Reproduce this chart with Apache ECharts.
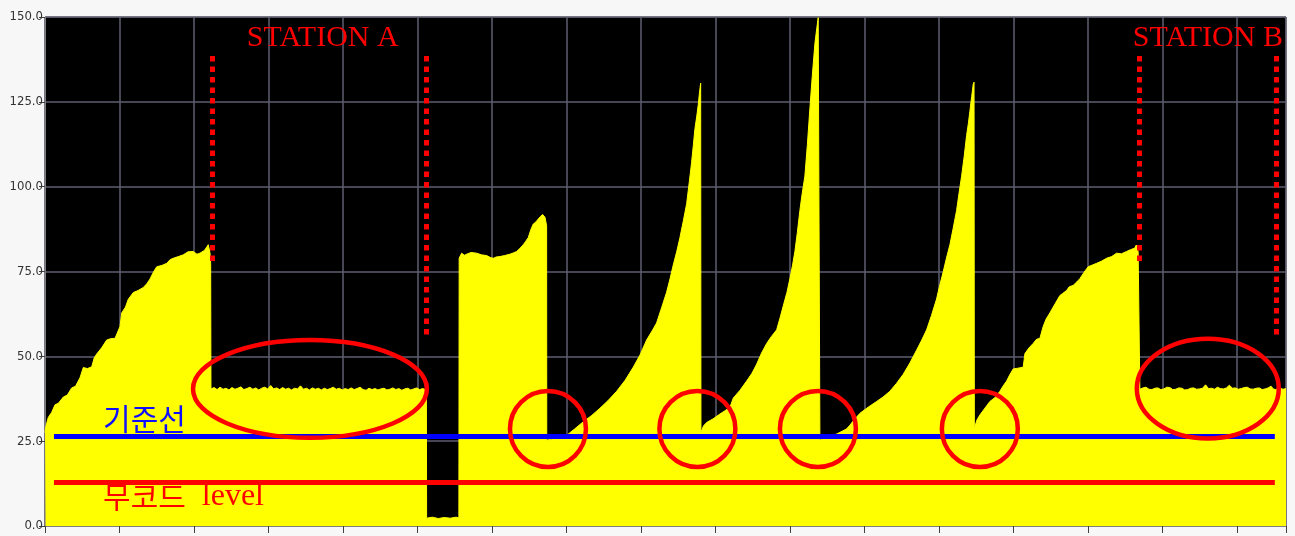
<!DOCTYPE html>
<html>
<head>
<meta charset="utf-8">
<script src="https://cdn.jsdelivr.net/npm/echarts@6/dist/echarts.min.js"></script>
<style>
	html, body { margin: 0; padding: 0; background: #f7f7f7; }
	#chart { width: 1295px; height: 536px; }
</style>
</head>
<body>
<div id="chart"></div>
<script>
// x is in sample units (100 per grid column), y is the signal level
const yTicks = [0, 25, 50, 75, 100, 125, 150];
const xMax = 1666;

const rampA = [
	[0, 27.5], [0.8, 29.0], [4.4, 32], [9, 33.5], [13.4, 35.7], [18, 36.2], [24.6, 38], [30, 38.6],
	[35.8, 40.7], [41, 41.2], [47, 43.7], [51.4, 46.7], [57, 46.4], [62.7, 46.9], [66, 49.5], [69.4, 50.7],
	[76, 52.5], [82.8, 54.8], [88, 55.2], [94, 55.3], [100.7, 58.8], [103, 62.8], [108, 64.5], [111.8, 66.8],
	[118.5, 68.8], [125, 69.4], [132, 70.3], [137, 71.5], [141, 72.8], [146, 75.0], [150, 76.4], [157, 76.8],
	[163.4, 77.4], [168, 78.5], [172.2, 78.9], [179, 79.4], [185.6, 79.9], [192, 80.8], [199, 80.9], [204, 80.1],
	[208, 80.4], [214, 81.2], [219.2, 82.9], [221.5, 80.5], [222.4, 77.4],
];
const flatA = [
	[222.8, 40.4], [227, 40.8], [231, 40.2], [235, 40.9], [239, 40.3], [243, 40.6], [247, 40.1], [251, 40.8],
	[255, 40.3], [259, 40.6], [263, 41.0], [267, 40.2], [271, 40.5], [275, 40.9], [279, 40.3], [283, 40.7],
	[287, 40.1], [291, 40.6], [295, 40.9], [299, 40.4], [303, 41.4], [307, 40.4], [311, 40.7], [315, 40.2],
	[319, 40.8], [323, 40.3], [327, 40.6], [331, 40.1], [335, 40.6], [339, 40.4], [343, 41.3], [347, 40.3],
	[351, 40.6], [355, 40.1], [359, 40.7], [363, 40.3], [367, 40.6], [371, 40.1], [375, 40.6], [379, 40.2],
	[383, 40.5], [387, 40.9], [391, 40.3], [395, 40.6], [399, 40.1], [403, 40.5], [407, 40.2], [411, 40.7],
	[415, 40.2], [419, 40.5], [423, 40.9], [427, 40.2], [431, 40.0], [435, 40.6], [439, 40.2], [443, 40.5],
	[447, 40.1], [451, 40.4], [455, 40.6], [459, 40.1], [463, 40.3], [467, 40.7], [471, 40.2], [475, 40.5],
	[479, 40.0], [483, 40.4], [487, 40.6], [491, 40.1], [495, 40.4], [499, 40.7], [503, 40.2], [507, 40.5],
	[512, 40.1],
];
const gap = [
	[512.3, 2.3], [520, 2.6], [528, 2.2], [536, 2.5], [544, 2.3], [552, 2.6], [555.6, 2.4],
];
const plateau = [
	[556.0, 78.9], [559.3, 80.4], [563, 79.8], [566, 80.1], [572, 80.6], [579.5, 80.4], [586, 79.9], [592.9, 79.7],
	[598, 79.1], [601.8, 78.9], [606, 79.3], [610.8, 79.4], [617, 79.7], [624.2, 80.1], [629, 80.5], [633.2, 80.9],
	[638, 81.9], [642, 82.9], [645, 83.8], [648.8, 85.0], [652, 87.2], [655.5, 89.0], [659, 89.6], [662.2, 90.5],
	[665, 91.2], [668.1, 91.8], [671.2, 91.0], [673.4, 88.5],
];
const spike1 = [
	[673.6, 25.3], [680, 25.6], [686.8, 26.0], [693, 26.3], [700.3, 26.7], [711, 28.6], [722.6, 30.7], [734, 32.6],
	[745, 34.7], [756, 37.0], [767.4, 39.7], [779, 43.0], [789.7, 46.8], [799, 50.5], [807.6, 54.8], [815, 57.5],
	[821, 59.8], [828, 64.5], [834.5, 68.9], [839, 72.8], [843.4, 76.9], [848, 80.8], [852.4, 85.0], [857, 90.0],
	[861.4, 95.0], [865, 101.5], [868, 107.1], [870.5, 112.5], [872.5, 117.1], [875, 120.8], [877, 124.2],
	[878.5, 127.5], [880.2, 130.5],
];
const spike2 = [
	[880.6, 27.6], [884, 29.5], [888.2, 30.5], [897, 31.6], [906, 33], [913, 34.0], [919.5, 35], [924, 37.7],
	[933, 40.0], [941.9, 42.7], [949, 45.0], [955.4, 47.7], [962, 51.0], [968.8, 53.8], [975, 55.8], [982.2, 57.8],
	[987, 61.5], [991.1, 64.9], [996, 68.8], [1000, 72.9], [1003.5, 76.8], [1006.7, 80.9], [1010, 86.5],
	[1013.4, 93.0], [1016.5, 98.0], [1020.1, 103.1], [1023.5, 112.5], [1026.9, 123.2], [1030, 132.5],
	[1033.6, 142.3], [1036, 146.5], [1038, 149.8], [1039.8, 150],
];
const spike3 = [
	[1040.3, 25.3], [1048, 26.0], [1055, 26.6], [1062.7, 27.1], [1070, 27.9], [1076, 28.6], [1080.5, 29.7],
	[1087, 31.5], [1094, 33.2], [1105, 35.0], [1116.4, 36.7], [1125, 38.0], [1134.2, 39.7], [1143, 42.0],
	[1152.1, 44.7], [1161, 48.0], [1170, 51.8], [1177, 54.8], [1183.5, 57.8], [1190, 62.0], [1196.9, 66.9],
	[1201, 70.8], [1205.8, 74.9], [1210, 78.8], [1214.8, 82.9], [1219, 87.5], [1223.8, 93.0], [1227, 98.0],
	[1230.5, 103.1], [1234, 109.0], [1237.2, 115.1], [1239.5, 118.5], [1241.6, 122.2], [1244, 126.5],
	[1246.1, 130.2], [1247.2, 130.8],
];
const rampB = [
	[1247.6, 28.8], [1251, 31.2], [1255, 32.7], [1261, 34.5], [1268.5, 36.7], [1275, 37.8], [1281.9, 39.7],
	[1286, 41.2], [1290.9, 42.7], [1295, 44.5], [1299.8, 46.3], [1306, 46.5], [1313.2, 46.8], [1315.5, 50.8],
	[1321, 52.5], [1326.6, 53.8], [1331, 55.0], [1335.6, 55.3], [1340, 58.8], [1344, 61.0], [1349, 62.8],
	[1356, 65.5], [1362.4, 67.9], [1366, 68.5], [1371.4, 69.4], [1375, 70.5], [1380.2, 70.9], [1385, 71.9],
	[1389.3, 72.9], [1395, 74.8], [1400.4, 76.4], [1406, 76.9], [1411.7, 77.4], [1418, 78.0], [1425.1, 78.9],
	[1432, 79.4], [1438.5, 80.4], [1445, 80.2], [1451.9, 80.9], [1457, 81.4], [1463, 81.9], [1465, 82.8],
	[1467.5, 80.9], [1469.6, 80.5],
];
const flatB = [
	[1469.8, 40.3], [1474, 40.7], [1478, 40.9], [1482, 40.3], [1486, 40.2], [1490, 40.6], [1494, 40.7],
	[1498, 40.2], [1502, 40.4], [1506, 40.9], [1510, 40.8], [1514, 40.2], [1518, 40.3], [1522, 40.7],
	[1526, 40.6], [1530, 40.1], [1534, 40.2], [1538, 40.6], [1542, 40.7], [1546, 40.3], [1550, 40.4],
	[1554, 40.6], [1558, 41.6], [1562, 40.5], [1566, 40.6], [1570, 40.3], [1574, 40.9], [1578, 40.5],
	[1582, 40.4], [1586, 40.7], [1590, 41.5], [1594, 40.6], [1598, 40.7], [1602, 40.3], [1606, 40.5],
	[1610, 40.8], [1614, 40.9], [1618, 40.4], [1622, 40.3], [1626, 40.6], [1630, 40.7], [1634, 40.2],
	[1638, 40.4], [1642, 40.7], [1646, 41.2], [1649, 40.4], [1652, 40.2], [1655, 40.5], [1658, 40.6],
	[1662, 40.3], [1666, 40.5],
];

// annotations
const baseLevel = 26.4;     // 기준선
const noCodeLevel = 12.9;   // 무코드 level
const levelSpan = [12, 1651];
const stationMarkX = [224.8, 512.3, 1468.5, 1652.4];
const stationMarkTop = [138.5, 138.5, 138.5, 138.5];
const stationMarkBottom = [77.8, 56.3, 77.8, 56.3];
const ellipses = [
	[355.7, 40.4, 157, 14.4],
	[1561, 40.5, 95.3, 14.7],
	[675.2, 28.6, 51, 11.2],
	[875.8, 28.6, 51, 11.2],
	[1037.6, 28.6, 51, 11.2],
	[1255, 28.6, 51, 11.2],
];
const labels = [
	[271, 143.8, "STATION A"],
	[1460.4, 143.8, "STATION B"],
	[77.9, 31.6, "기준선"],
	[77.9, 8.6, "무코드 level"],
];

const wave = [].concat(rampA, flatA, gap, plateau, spike1, spike2, spike3, rampB, flatB);

const chart = echarts.init(document.getElementById("chart"), null, { width: 1295, height: 536 });

const markLines = [
	[{ coord: [levelSpan[0], baseLevel], lineStyle: { color: "#0000ff", width: 5, type: "solid" } }, { coord: [levelSpan[1], baseLevel] }],
	[{ coord: [levelSpan[0], noCodeLevel], lineStyle: { color: "#ff0000", width: 5, type: "solid" } }, { coord: [levelSpan[1], noCodeLevel] }],
];
for (let i = 0; i < stationMarkX.length; i++)
	markLines.push([
		{ coord: [stationMarkX[i], stationMarkTop[i]], lineStyle: { color: "#ff0000", width: 5, type: [5.5, 5] } },
		{ coord: [stationMarkX[i], stationMarkBottom[i]] },
	]);

const labelStyle = {
	"STATION A" : { fill: "#ff0000", font: "30px 'Liberation Serif'" },
	"STATION B" : { fill: "#ff0000", font: "30px 'Liberation Serif'" },
	"기준선"    : { fill: "#1010ff", font: "30px 'Noto Sans CJK KR'" },
};

chart.setOption({
	animation       : false,
	backgroundColor : "#f7f7f7",
	grid            : {
		left            : 45,
		right           : 9,
		top             : 17,
		bottom          : 10,
		show            : true,
		backgroundColor : "#000000",
		borderColor     : "#808080",
		borderWidth     : 1,
	},
	xAxis: {
		type      : "value",
		min       : 0,
		max       : xMax,
		interval  : 100,
		axisLine  : { show: true, lineStyle: { color: "#808080" } },
		axisTick  : { show: true, length: 7, lineStyle: { color: "#404040" } },
		axisLabel : { show: false },
		splitLine : { show: true, lineStyle: { color: "#5e5e72", width: 1.5 } },
	},
	yAxis: {
		type      : "value",
		min       : yTicks[0],
		max       : yTicks[yTicks.length - 1],
		interval  : 25,
		axisLine  : { show: true, lineStyle: { color: "#808080" } },
		axisTick  : { show: true, length: 6, lineStyle: { color: "#404040" } },
		axisLabel : {
			margin     : 2,
			fontSize   : 13,
			fontFamily : "'DejaVu Sans Condensed', sans-serif",
			color      : "#333333",
			formatter  : v => v.toFixed(1),
		},
		splitLine: { show: true, lineStyle: { color: "#5e5e72", width: 1.5 } },
	},
	series: [
		{
			type       : "line",
			data       : wave,
			showSymbol : false,
			lineStyle  : { color: "#ffff00", width: 1 },
			areaStyle  : { color: "#ffff00", opacity: 1 },
			markLine   : {
				silent    : true,
				symbol    : ["none", "none"],
				label     : { show: false },
				animation : false,
				data      : markLines,
			},
		},
		{
			type       : "custom",
			z          : 5,
			clip       : false,
			silent     : true,
			data       : ellipses,
			encode     : { x: 0, y: 1 },
			renderItem : (params, api) => {
				const c = api.coord([api.value(0), api.value(1)]);
				const s = api.size([api.value(2), api.value(3)]);
				return {
					type  : "ellipse",
					shape : { cx: c[0], cy: c[1], rx: s[0], ry: s[1] },
					style : { fill: "none", stroke: "#ff0000", lineWidth: 4.5 },
				};
			},
		},
		{
			type       : "custom",
			z          : 6,
			clip       : false,
			silent     : true,
			data       : labels,
			encode     : { x: 0, y: 1 },
			renderItem : (params, api) => {
				const c = api.coord([api.value(0), api.value(1)]);
				const text = labels[params.dataIndex][2];
				if (labelStyle[text])
					return {
						type  : "text",
						x     : c[0],
						y     : c[1],
						style : { text, ...labelStyle[text], align: "left", verticalAlign: "middle" },
					};
				const parts = text.split(" ");
				return {
					type  : "text",
					x     : c[0],
					y     : c[1],
					style : {
						text          : `{k|${parts[0]}}{l|${parts[1]}}`,
						fill          : "#ff0000",
						align         : "left",
						verticalAlign : "middle",
						font          : "30px 'Liberation Serif'",
						rich          : {
							k : { fill: "#ff0000", fontSize: 30, fontFamily: "Noto Sans CJK KR" },
							l : { fill: "#ff0000", fontSize: 32, fontFamily: "Liberation Serif", padding: [0, 0, 0, 16] },
						},
					},
				};
			},
		},
	],
});
</script>
</body>
</html>
